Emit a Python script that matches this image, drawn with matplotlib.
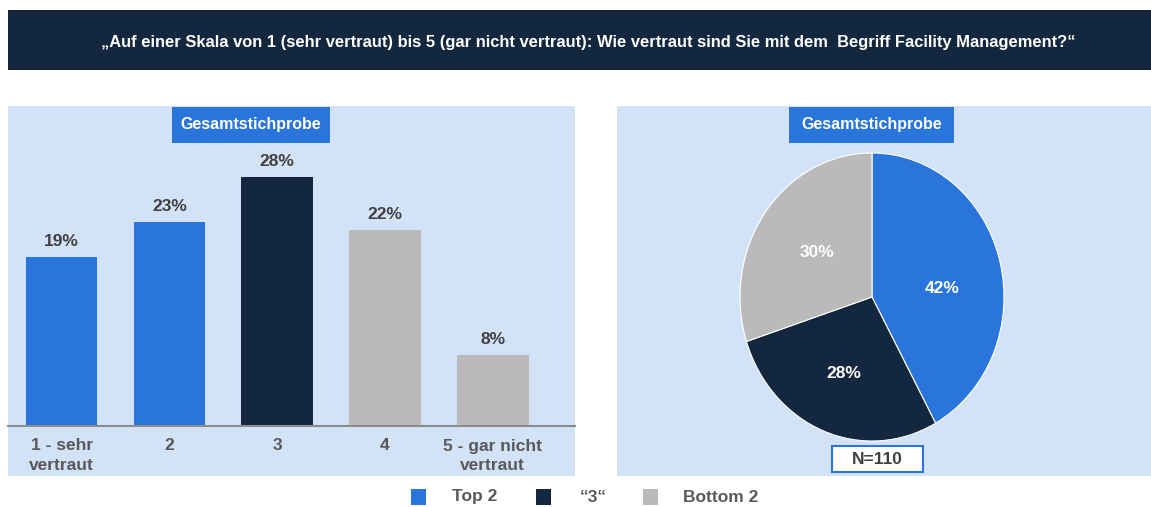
import matplotlib
matplotlib.use("Agg")
import matplotlib.pyplot as plt
from matplotlib.patches import Rectangle
import numpy as np

# Data
bar_categories = ["1 - sehr\nvertraut", "2", "3", "4", "5 - gar nicht\nvertraut"]
bar_values = [19, 23, 28, 22, 8]
bar_groups = ["Top 2", "Top 2", "3", "Bottom 2", "Bottom 2"]
pie_labels = ["Top 2", "\u201c3\u201c", "Bottom 2"]
pie_values = [42, 28, 30]
title = "\u201eAuf einer Skala von 1 (sehr vertraut) bis 5 (gar nicht vertraut): Wie vertraut sind Sie mit dem  Begriff Facility Management?\u201c"
panel_title = "Gesamtstichprobe"
n_text = "N=110"

BLUE = "#2a75dc"
NAVY = "#13273f"
GRAY = "#bababa"
PANEL = "#d3e3f7"
group_colors = {"Top 2": BLUE, "3": NAVY, "Bottom 2": GRAY}
pie_colors = [BLUE, NAVY, GRAY]

W, H = 1151, 507
fig = plt.figure(figsize=(W / 100, H / 100), dpi=100)
fig.patch.set_facecolor("white")

FONT = ["Liberation Sans", "DejaVu Sans"]


def fx(px):
    return px / W


def fy(py):
    return 1 - py / H


def frect(x0, y0, x1, y1, **kw):
    r = Rectangle((fx(x0), fy(y1)), fx(x1) - fx(x0), fy(y0) - fy(y1),
                  transform=fig.transFigure, **kw)
    fig.add_artist(r)
    return r


# Title banner
frect(8, 10, 1151, 70, facecolor=NAVY, edgecolor="none", zorder=0)
fig.text(fx(588), fy(42), title, color="white", fontsize=11.9, fontweight="bold",
         family=FONT, ha="center", va="center")

# Panels
frect(8, 106, 575, 476, facecolor=PANEL, edgecolor="none", zorder=0)
frect(617, 106, 1151, 476, facecolor=PANEL, edgecolor="none", zorder=0)

# Bar chart axes
ax = fig.add_axes([fx(8), fy(426), fx(575) - fx(8), fy(106) - fy(426)])
ax.set_facecolor("none")
x = np.arange(len(bar_values))
colors = [group_colors[g] for g in bar_groups]
ax.bar(x, bar_values, width=0.665, color=colors, zorder=2)
ax.set_xlim(-0.497, 4.763)
ax.set_ylim(0, 36)
for xi, v in zip(x, bar_values):
    ax.text(xi, v + 0.9, f"{v}%", ha="center", va="bottom", fontsize=12.5,
            fontweight="bold", color="#404040", family=FONT)
for s in ["top", "right", "left"]:
    ax.spines[s].set_visible(False)
ax.spines["bottom"].set_color("#8c8c8c")
ax.spines["bottom"].set_linewidth(1.5)
ax.set_yticks([])
ax.set_xticks(x)
ax.set_xticklabels(bar_categories, fontsize=12.5, fontweight="bold", color="#595959",
                   family=FONT, linespacing=1.35)
ax.tick_params(axis="x", length=0, pad=9)

# Panel label boxes
for (x0, x1) in [(172, 330), (789, 954)]:
    frect(x0, 107, x1, 143, facecolor=BLUE, edgecolor="none", zorder=3)
    fig.text(fx((x0 + x1) / 2), fy(125), panel_title, color="white", fontsize=11.5,
             fontweight="bold", family=FONT, ha="center", va="center", zorder=4)

# Pie
cx, cy, rx, ry = 872, 297, 132, 144
pax = fig.add_axes([fx(cx - rx), fy(cy + ry), fx(2 * rx), fy(0) - fy(2 * ry)])
pax.set_facecolor("none")
wedges, texts = pax.pie(pie_values, colors=pie_colors, startangle=90, counterclock=False,
                        wedgeprops=dict(edgecolor="white", linewidth=0.8))
pax.set_aspect("auto")
pax.set_xlim(-1.0, 1.0)
pax.set_ylim(-1.0, 1.0)
label_pos = [(0.53, 0.056), (-0.21, -0.53), (-0.42, 0.31)]
for (lx, ly), v in zip(label_pos, pie_values):
    pax.text(lx, ly, f"{v}%", ha="center", va="center", color="white", fontsize=12.5,
             fontweight="bold", family=FONT)

# N box
frect(832, 446, 923, 472, facecolor="white", edgecolor=BLUE, linewidth=1.5, zorder=3)
fig.text(fx(877.5), fy(459), n_text, color="#404040", fontsize=12.5, fontweight="bold",
         family=FONT, ha="center", va="center", zorder=4)

# Legend
leg_items = [("Top 2", BLUE, 411, 452), ("\u201c3\u201c", NAVY, 536, 580), ("Bottom 2", GRAY, 643, 683)]
for lab, col, sx, tx in leg_items:
    frect(sx, 489, sx + 15, 505, facecolor=col, edgecolor="none")
    fig.text(fx(tx), fy(497), lab, color="#595959", fontsize=12.5, fontweight="bold",
             family=FONT, ha="left", va="center")

fig.savefig("out.png", dpi=100, facecolor="white")
